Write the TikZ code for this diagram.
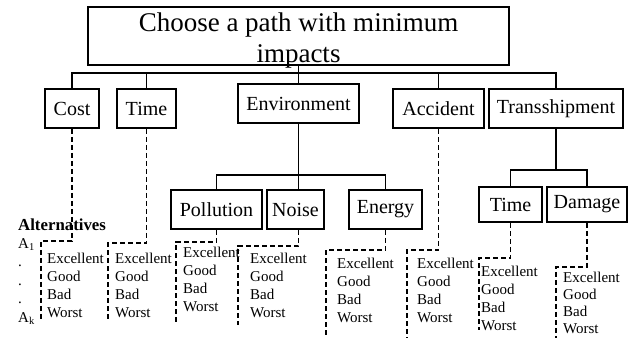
\documentclass[tikz,border=0pt]{standalone}
\usepackage{fontspec}
\setmainfont{Liberation Serif}
\begin{document}
\begin{tikzpicture}[x=1pt,y=-1pt,
  box/.style={draw, line width=1.9pt, inner sep=0pt, font=\fontsize{20}{24}\selectfont},
  conn/.style={line width=1.8pt},
  dline/.style={line width=1.6pt, dash pattern=on 5pt off 3pt},
  grade/.style={align=left, anchor=north west, inner sep=0pt, font=\fontsize{15}{18.1}\selectfont}]
\useasboundingbox (0,0) rectangle (630,338);
% root
\node[draw, line width=1.7pt, minimum width=421pt, minimum height=58pt, inner sep=0pt] (root) at (298.5,36) {};
\node[font=\fontsize{27}{31}\selectfont, align=center, inner sep=0pt] (title) at (298.5,40.3) {Choose a path with minimum\\impacts};
% level 2
\node[box, minimum width=54pt, minimum height=39pt] (cost) at (72,108.5) {Cost};
\node[box, minimum width=59pt, minimum height=39pt] (time) at (146.5,108.5) {Time};
\node[box, minimum width=121pt, minimum height=39pt] (env) at (298.5,103.5) {Environment};
\node[box, minimum width=91pt, minimum height=39pt] (acc) at (438.5,108.5) {Accident};
\node[box, minimum width=134pt, minimum height=39pt] (trans) at (556,108.5) {Transshipment};
% level 3
\node[box, minimum width=91pt, minimum height=39pt] (poll) at (216.5,209.5) {Pollution};
\node[box, minimum width=57pt, minimum height=39pt] (noise) at (295.5,209.5) {Noise};
\node[box, minimum width=73pt, minimum height=39pt] (energy) at (385.5,209.5) {Energy};
\node[box, minimum width=63pt, minimum height=35pt] (time2) at (510.5,204.5) {Time};
\node[box, minimum width=80pt, minimum height=35pt] (damage) at (587,204.5) {Damage};
% solid connectors
\coordinate (bus) at (298.5,73);
\draw[conn] (cost.north) |- (bus) -| (trans.north);
\draw[conn] (time.north) -- (time.north |- bus);
\draw[conn] (acc.north) -- (acc.north |- bus);
\draw[conn] (root.south) -- (env.north);
\coordinate (ebus) at (298.5,175);
\draw[conn] (poll.north) |- (ebus) -| (energy.north);
\draw[conn] (env.south) -- (env.south |- noise.north);
\coordinate (tbus) at (556,170);
\draw[conn] (time2.north) |- (tbus) -| (damage.north);
\draw[conn] (trans.south) -- (tbus);
% dashed connectors
\coordinate (c1) at (41,241);  \coordinate (c2) at (41,320);
\coordinate (t1) at (108,243); \coordinate (t2) at (108,322);
\coordinate (p1) at (176,242); \coordinate (p2) at (176,325);
\coordinate (n1) at (238,246); \coordinate (n2) at (238,325);
\coordinate (e1) at (326,250); \coordinate (e2) at (326,338);
\coordinate (a1) at (407,250); \coordinate (a2) at (407,338);
\coordinate (s1) at (479,258); \coordinate (s2) at (479,330);
\coordinate (d1) at (556,267); \coordinate (d2) at (556,338);
\draw[dline] (cost.south) |- (c1) -- (c2);
\draw[dline] (time.south) |- (t1) -- (t2);
\draw[dline] (poll.south) |- (p1) -- (p2);
\draw[dline] (noise.south -| env.south) |- (n1) -- (n2);
\draw[dline] (energy.south) |- (e1) -- (e2);
\draw[dline] (acc.south) |- (a1) -- (a2);
\draw[dline] (time2.south) |- (s1) -- (s2);
\draw[dline] (damage.south) |- (d1) -- (d2);
% grades
\node[grade] (g1) at (47,252.5) {Excellent\\Good\\Bad\\Worst};
\node[grade] (g2) at (115,252.5) {Excellent\\Good\\Bad\\Worst};
\node[grade] (g3) at (183,247) {Excellent\\Good\\Bad\\Worst};
\node[grade] (g4) at (250,252.5) {Excellent\\Good\\Bad\\Worst};
\node[grade] (g5) at (337,257.5) {Excellent\\Good\\Bad\\Worst};
\node[grade] (g6) at (417,257.5) {Excellent\\Good\\Bad\\Worst};
\node[grade] (g7) at (481,265.5) {Excellent\\Good\\Bad\\Worst};
\node[grade, font=\fontsize{15}{17.2}\selectfont] (g8) at (563,271.5) {Excellent\\Good\\Bad\\Worst};
% alternatives
\node[anchor=base west, inner sep=0pt, font=\bfseries\fontsize{16.8}{20}\selectfont] (alt) at (18,230) {Alternatives};
\node[anchor=north west, align=left, inner sep=0pt, font=\fontsize{15}{18.5}\selectfont] (altlist) at (18,238) {A\textsubscript{1}\\.\\.\\.\\A\textsubscript{k}};
\end{tikzpicture}
\end{document}
